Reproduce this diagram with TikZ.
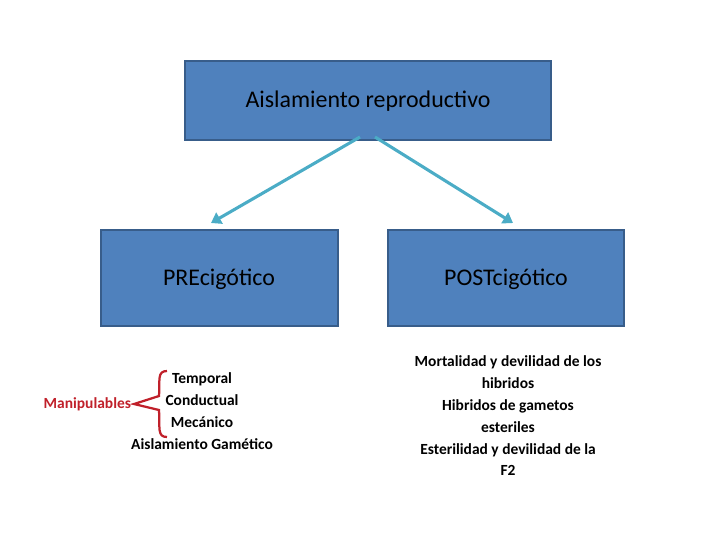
\documentclass[tikz,border=0pt]{standalone}
\usepackage{fontspec}
\setmainfont{Carlito}
\usetikzlibrary{arrows.meta}
\definecolor{boxfill}{HTML}{4F81BD}
\definecolor{boxline}{HTML}{385D8A}
\definecolor{arrowcol}{HTML}{4BACC6}
\definecolor{manired}{HTML}{C0202A}
\begin{document}
\begin{tikzpicture}[x=0.025cm,y=-0.025cm,inner sep=0pt,outer sep=0pt,
mainbox/.style={draw=boxline,fill=boxfill,line width=1.5pt,font=\fontsize{17}{20}\selectfont},
link/.style={draw=arrowcol,line width=2.2pt,-{Triangle[width=9pt,length=7pt]}},
bullet/.style={align=center,font=\fontsize{11}{15.5}\selectfont\bfseries}]
\useasboundingbox (0,0) rectangle (720,540);

\draw (185,61) node[mainbox,anchor=north west,minimum width=366*0.025cm,minimum height=79*0.025cm,text depth=0pt] (top) {};
\node at (368,101) (toplab) {\fontsize{17}{20}\selectfont Aislamiento reproductivo};
\draw (101,230) node[mainbox,anchor=north west,minimum width=237*0.025cm,minimum height=96*0.025cm] (pre) {};
\node at (219,279) (prelab) {\fontsize{17}{20}\selectfont PREcigótico};
\draw (388,230) node[mainbox,anchor=north west,minimum width=236*0.025cm,minimum height=96*0.025cm] (post) {};
\node at (506,279) (postlab) {\fontsize{17}{20}\selectfont POSTcigótico};

\coordinate (a1) at (360,137);
\coordinate (a2) at (375,137);
\coordinate (b1) at (211,223);
\coordinate (b2) at (513,223);
\draw[link] (a1) -- (b1);
\draw[link] (a2) -- (b2);

% lista precigotica
\node[bullet] at (202,411) (prelist) {Temporal\\Conductual\\Mecánico\\Aislamiento Gamético};
\node[font=\fontsize{11}{13}\selectfont\bfseries,text=manired,anchor=east] at (131,404) (mani) {Manipulables};
\draw[manired,line width=1.6pt] (167,371) .. controls (157,371) and (160,380) .. (159,396) -- (134,404) -- (159,410) .. controls (160,428) and (157,437) .. (167,437);

% lista postcigotica
\node[bullet] at (508,416) (postlist) {Mortalidad y devilidad de los\\hibridos\\Hibridos de gametos\\esteriles\\Esterilidad y devilidad de la\\F2};
\end{tikzpicture}
\end{document}
